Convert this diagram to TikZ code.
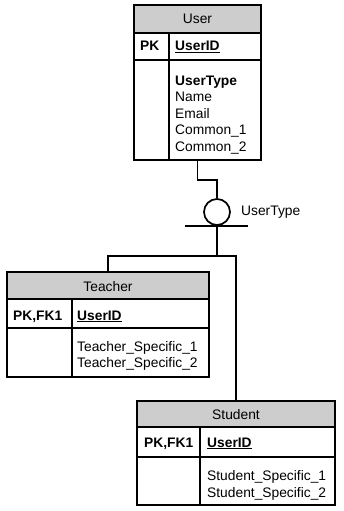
\documentclass[tikz,border=0pt]{standalone}
\usepackage{fontspec}
\setmainfont{Liberation Sans}
\usepackage{tikz}

\definecolor{hdrgray}{RGB}{205,205,205}

\begin{document}
\begin{tikzpicture}[x=1pt,y=-1pt,
  font=\fontsize{13.8}{16}\selectfont,
  entbox/.style={draw,line width=1.5pt,inner sep=0pt,outer sep=0pt},
  grid/.style={line width=1.5pt},
  txt/.style={inner sep=0pt,anchor=base west},
  ttl/.style={inner sep=0pt,anchor=base},
  conn/.style={line width=1.7pt}]

\useasboundingbox (0,0) rectangle (344,511);

% User 实体
\fill[hdrgray] (134,5) rectangle (261,33);
\node[entbox,minimum width=127,minimum height=155] (user) at (197.5,82.5) {};
\draw[grid] (134,33) -- (261,33) (134,60) -- (261,60) (169,33) -- (169,160);
\node[ttl] (usertitle) at (197.5,24) {User};
\node[txt] (userpk) at (140,51) {\textbf{PK}};
\node[txt] (userid) at (175,51) {\textbf{\underline{UserID}}};
\node[txt] (utype) at (175,85) {\textbf{UserType}};
\node[txt] (uname) at (175,101.5) {Name};
\node[txt] (umail) at (175,118) {Email};
\node[txt] (ucom1) at (175,134.5) {Common\_1};
\node[txt] (ucom2) at (175,151) {Common\_2};

% Teacher 实体
\fill[hdrgray] (7,272) rectangle (209,299);
\node[entbox,minimum width=202,minimum height=105] (teacher) at (108,324.5) {};
\draw[grid] (7,299) -- (209,299) (7,328) -- (209,328) (72,299) -- (72,377);
\node[ttl] (teachtitle) at (108,291) {Teacher};
\node[txt] (teachpk) at (13,320) {\textbf{PK,FK1}};
\node[txt] (teachid) at (77,320) {\textbf{\underline{UserID}}};
\node[txt] (tspec1) at (77,351) {Teacher\_Specific\_1};
\node[txt] (tspec2) at (77,367.5) {Teacher\_Specific\_2};

% Student 实体
\fill[hdrgray] (137,401) rectangle (335,427);
\node[entbox,minimum width=198,minimum height=104] (student) at (236,453) {};
\draw[grid] (137,427) -- (335,427) (137,457) -- (335,457) (200,427) -- (200,505);
\node[ttl] (studtitle) at (236,419) {Student};
\node[txt] (studpk) at (144,447) {\textbf{PK,FK1}};
\node[txt] (studid) at (207,447) {\textbf{\underline{UserID}}};
\node[txt] (sspec1) at (207,480.5) {Student\_Specific\_1};
\node[txt] (sspec2) at (207,497) {Student\_Specific\_2};

% 分类符号（圆 + 横线）
\node[draw,circle,line width=1.7pt,minimum size=26,inner sep=0pt] (cat) at (217,212) {};
\draw[conn] (cat.south) +(-32,0) -- +(31,0);
\node[anchor=west,inner sep=0pt] (catlbl) at (241,212) {UserType};

% 连线
\draw[conn] (user.south) -- ++(0,20) -| (cat.north);
\draw[conn] (cat.south) -- ++(0,30) coordinate (split);
\draw[conn] (split) -| (teacher.north);
\draw[conn] (split) -| (student.north);

\end{tikzpicture}
\end{document}
